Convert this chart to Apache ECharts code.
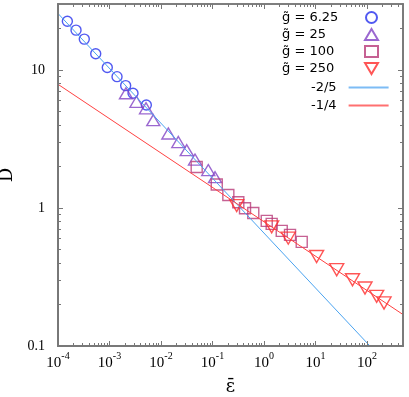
<!DOCTYPE html>
<html>
<head>
<meta charset="utf-8">
<script src="https://cdn.jsdelivr.net/npm/echarts@6/dist/echarts.min.js"></script>
<style>
  html, body { margin: 0; padding: 0; background: #fff; }
  #wrap { position: relative; width: 409px; height: 397px; }
  #chart, #frame { position: absolute; left: 0; top: 0; width: 409px; height: 397px; }
  #frame { pointer-events: none; }
</style>
</head>
<body>
<div id="wrap">
  <div id="chart"></div>
  <div id="frame"></div>
</div>
<script>
// (log-log)
const g625Eps = [1.52e-4, 2.24e-4, 3.24e-4, 5.4e-4, 9.06e-4, 1.40e-3, 2.06e-3, 2.86e-3, 5.19e-3];
const g625D = [22.5, 19.4, 16.7, 13.1, 10.4, 8.93, 7.69, 6.77, 5.57];

const g25Eps = [2.09e-3, 3.34e-3, 5.12e-3, 7.08e-3, 1.39e-2, 2.17e-2, 3.16e-2, 4.57e-2, 8.28e-2, 0.112];
const g25D = [6.77, 5.87, 5.27, 4.32, 3.46, 3.0, 2.62, 2.24, 1.88, 1.67];

const g100Eps = [0.0493, 0.121, 0.203, 0.317, 0.428, 0.619, 1.13, 1.41, 2.21, 3.2, 5.4];
const g100D = [1.98, 1.48, 1.24, 1.10, 0.995, 0.92, 0.806, 0.766, 0.682, 0.638, 0.568];

const g250Eps = [0.295, 1.41, 2.96, 10.5, 25.8, 52.3, 91.4, 154, 214];
const g250D = [1.04, 0.729, 0.604, 0.445, 0.357, 0.302, 0.263, 0.229, 0.205];

// guide lines, end points
const slope25Eps = [1e-4, 114];
const slope25D = [25.6, 0.1];
const slope14Eps = [1e-4, 500];
const slope14D = [7.86, 0.169];

const xTicks = [1e-4, 1e-3, 1e-2, 1e-1, 1, 10, 100];
const xTickExp = ['-4', '-3', '-2', '-1', '0', '1', '2'];
const yTicks = [0.1, 1, 10];
const yTickLabels = ['0.1', '1', '10'];

const xMin = 1e-4, xMax = 500;
const yMin = 0.1, yMax = 30;

const frameColor = '#777777';
const serif = '"DejaVu Serif", "Liberation Serif", serif';
const labelSerif = '"Liberation Serif", "DejaVu Serif", serif';
const sans = '"DejaVu Sans", "Liberation Sans", sans-serif';

function minorTicks(min, max) {
  const out = [];
  for (let d = Math.floor(Math.log10(min)); d <= Math.ceil(Math.log10(max)); d++) {
    for (let m = 2; m <= 9; m++) {
      const v = m * Math.pow(10, d);
      if (v > min && v < max) out.push(v);
    }
  }
  return out;
}
const xMinor = minorTicks(xMin, xMax);
const yMinor = minorTicks(yMin, yMax);

function zip(a, b) { return a.map((v, i) => [v, b[i]]); }
function tickIndex(ticks, v) {
  return ticks.findIndex(t => Math.abs(Math.log10(t) - Math.log10(v)) < 1e-6);
}

const plotRect = { left: 58, right: 6, top: 4, bottom: 51, outerBoundsMode: 'none' };

// ---------- data layer ----------
const chart = echarts.init(document.getElementById('chart'));

chart.setOption({
  animation: false,
  grid: plotRect,
  xAxis: {
    type: 'log',
    min: xMin,
    max: xMax,
    axisLine: { show: true, lineStyle: { color: frameColor, width: 1.6 } },
    axisTick: { show: false },
    splitLine: { show: false },
    name: 'ε\u0304',
    nameLocation: 'middle',
    nameGap: 32,
    nameTextStyle: { fontFamily: serif, fontSize: 18, color: '#000' },
    axisLabel: {
      show: true,
      margin: 5,
      customValues: xTicks,
      formatter: v => '{b|10}{s|' + xTickExp[tickIndex(xTicks, v)] + '}',
      rich: {
        b: { fontFamily: labelSerif, fontSize: 15, color: '#000', lineHeight: 20, verticalAlign: 'bottom' },
        s: { fontFamily: labelSerif, fontSize: 10, color: '#000', lineHeight: 20, verticalAlign: 'top' }
      }
    }
  },
  yAxis: {
    type: 'log',
    min: yMin,
    max: yMax,
    axisLine: { show: true, lineStyle: { color: frameColor, width: 1.6 } },
    axisTick: { show: false },
    splitLine: { show: false },
    name: 'D\u0304',
    nameLocation: 'middle',
    nameGap: 33,
    nameRotate: 90,
    nameTextStyle: { fontFamily: serif, fontSize: 18, color: '#000' },
    axisLabel: {
      show: true,
      margin: 13,
      customValues: yTicks,
      formatter: v => yTickLabels[tickIndex(yTicks, v)],
      fontFamily: labelSerif,
      fontSize: 14,
      color: '#000'
    }
  },
  legend: [
    {
      left: 277,
      top: 6,
      orient: 'vertical',
      align: 'right',
      itemWidth: 13,
      itemHeight: 11,
      itemGap: 4,
      formatter: name => '{t|' + name + '}',
      textStyle: {
        rich: { t: { width: 78, align: 'left', lineHeight: 11, fontFamily: sans, fontSize: 13, color: '#000' } }
      },
      data: ['g\u0303 = 6.25', 'g\u0303 = 25', 'g\u0303 = 100', 'g\u0303 = 250']
    },
    {
      left: 306,
      top: 76,
      orient: 'vertical',
      align: 'right',
      itemWidth: 40,
      itemHeight: 2,
      itemGap: 5,
      formatter: name => '{r|' + name + '}',
      textStyle: {
        rich: { r: { padding: [0, 7, 0, 0], lineHeight: 11, fontFamily: sans, fontSize: 13, color: '#000' } }
      },
      data: [
        { name: '-2/5', icon: 'rect' },
        { name: '-1/4', icon: 'rect' }
      ]
    }
  ],
  series: [
    {
      name: '-2/5', type: 'line',
      symbol: 'none', clip: true,
      lineStyle: { color: '#4aa3f0', width: 1 },
      itemStyle: { color: '#7dbcf5' },
      data: zip(slope25Eps, slope25D)
    },
    {
      name: '-1/4', type: 'line',
      symbol: 'none', clip: true,
      lineStyle: { color: '#ff4040', width: 1 },
      itemStyle: { color: '#ff7070' },
      data: zip(slope14Eps, slope14D)
    },
    {
      name: 'g\u0303 = 6.25', type: 'scatter',
      symbol: 'circle', symbolSize: 10,
      itemStyle: { color: 'rgba(0,0,0,0)', borderColor: '#2530ee', borderWidth: 1.4 },
      data: zip(g625Eps, g625D)
    },
    {
      name: 'g\u0303 = 25', type: 'scatter',
      symbol: 'triangle', symbolSize: [13, 11],
      itemStyle: { color: 'rgba(0,0,0,0)', borderColor: '#8242c4', borderWidth: 1.4 },
      data: zip(g25Eps, g25D)
    },
    {
      name: 'g\u0303 = 100', type: 'scatter',
      symbol: 'rect', symbolSize: [11, 11],
      itemStyle: { color: 'rgba(0,0,0,0)', borderColor: '#b83a78', borderWidth: 1.4 },
      data: zip(g100Eps, g100D)
    },
    {
      name: 'g\u0303 = 250', type: 'scatter',
      symbol: 'path://M0,0L10,0L5,8.5Z', symbolSize: [14, 12],
      itemStyle: { color: 'rgba(0,0,0,0)', borderColor: '#ff2a2a', borderWidth: 1.4 },
      data: zip(g250Eps, g250D)
    }
  ]
});

// ---------- frame layer: box and inward ticks on all four sides ----------
function frameAxis(grid, min, max, position, ticks, len) {
  return {
    gridIndex: grid,
    type: 'log',
    min: min,
    max: max,
    position: position,
    axisLine: { show: true, lineStyle: { color: frameColor, width: 1.6 } },
    axisTick: { show: true, inside: true, length: len, customValues: ticks, lineStyle: { color: frameColor, width: 1 } },
    axisLabel: { show: false },
    splitLine: { show: false }
  };
}

const frame = echarts.init(document.getElementById('frame'));
frame.setOption({
  animation: false,
  grid: [plotRect, plotRect, plotRect, plotRect],
  xAxis: [
    frameAxis(0, xMin, xMax, 'bottom', xTicks, 5),
    frameAxis(1, xMin, xMax, 'bottom', xMinor, 3),
    frameAxis(2, xMin, xMax, 'top', xTicks, 5),
    frameAxis(3, xMin, xMax, 'top', xMinor, 3)
  ],
  yAxis: [
    frameAxis(0, yMin, yMax, 'left', yTicks, 5),
    frameAxis(1, yMin, yMax, 'left', yMinor, 3),
    frameAxis(2, yMin, yMax, 'right', yTicks, 5),
    frameAxis(3, yMin, yMax, 'right', yMinor, 3)
  ]
});
</script>
</body>
</html>
